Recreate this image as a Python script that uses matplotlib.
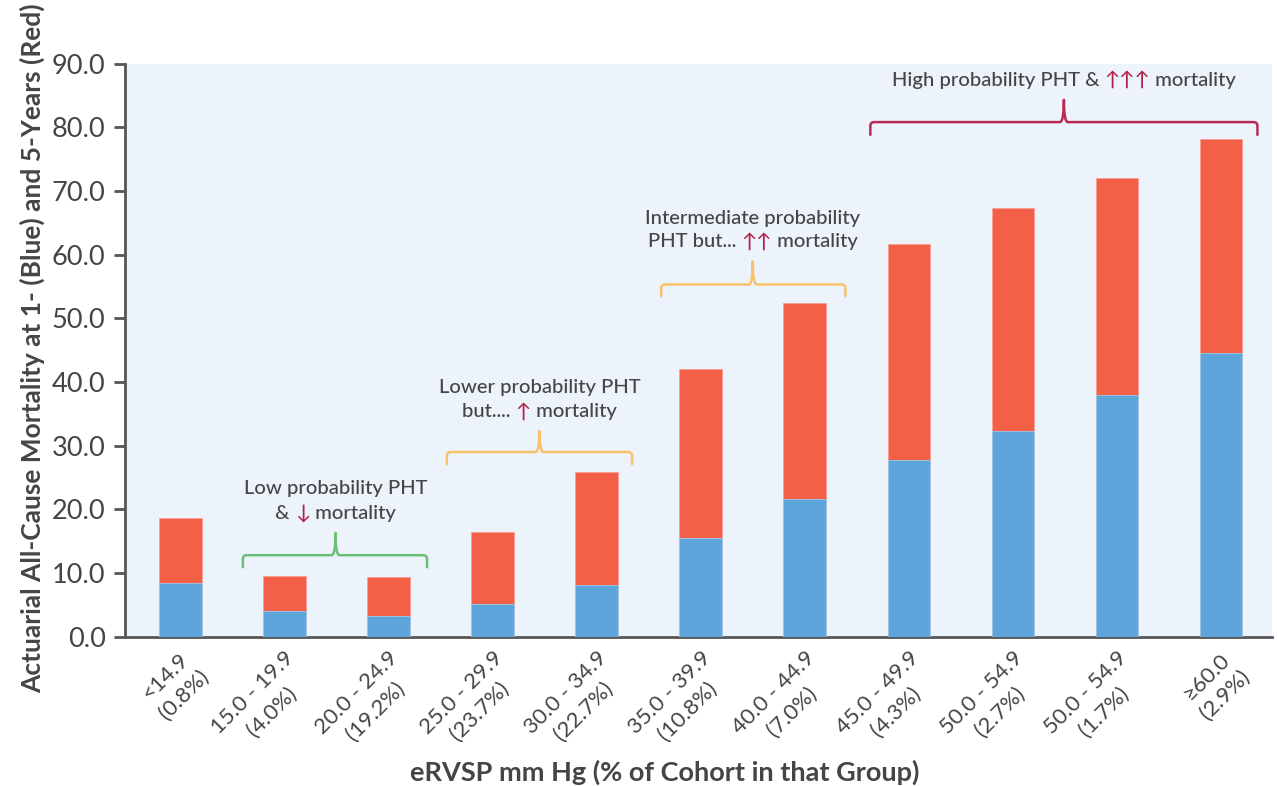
import matplotlib
matplotlib.use("Agg")
import matplotlib.pyplot as plt
from matplotlib.path import Path
from matplotlib.patches import PathPatch
from matplotlib.transforms import offset_copy, ScaledTranslation
import numpy as np

plt.rcParams['font.family'] = ['Lato', 'DejaVu Sans']

categories = ["<14.9\n(0.8%)", "15.0 - 19.9\n(4.0%)", "20.0 - 24.9\n(19.2%)",
              "25.0 - 29.9\n(23.7%)", "30.0 - 34.9\n(22.7%)", "35.0 - 39.9\n(10.8%)",
              "40.0 - 44.9\n(7.0%)", "45.0 - 49.9\n(4.3%)", "50.0 - 54.9\n(2.7%)",
              "50.0 - 54.9\n(1.7%)", "≥60.0\n(2.9%)"]
mort_5yr = [18.7, 9.6, 9.4, 16.4, 25.9, 42.0, 52.4, 61.6, 67.3, 72.0, 78.1]
mort_1yr = [8.4, 4.0, 3.2, 5.1, 8.1, 15.5, 21.6, 27.7, 32.3, 37.9, 44.5]
yticks = [0, 10, 20, 30, 40, 50, 60, 70, 80, 90]

RED = "#F45F47"
BLUE = "#5DA5DA"
BG = "#EDF3FB"
TXT = "#454545"
ARROW = "#B3214B"
GREEN = "#6CBF78"
ORANGE = "#F8C26A"
CRIMSON = "#B82A55"

W, H = 1277, 786
fig = plt.figure(figsize=(W / 100, H / 100), dpi=100)
ax = fig.add_axes([125 / W, 1 - 636.7 / H, (1272 - 125) / W, (636.7 - 63.5) / H])
ax.set_facecolor(BG)

x = np.arange(len(categories))
ax.bar(x, mort_5yr, width=0.41, color=RED, edgecolor="#F8A090", linewidth=0.6, zorder=2)
ax.bar(x, mort_1yr, width=0.41, color=BLUE, edgecolor="#9CCBEB", linewidth=0.6, zorder=3)

ax.set_xlim(-0.533, 10.49)
ax.set_ylim(0, 90)
ax.set_yticks(yticks)
ax.set_yticklabels([f"{v:.1f}" for v in yticks], fontsize=19.5, color=TXT)
ax.tick_params(axis='y', direction='out', length=8, width=2, color="#555555", pad=6)
ax.tick_params(axis='x', length=0, pad=20)
ax.set_xticks(x)
ax.set_xticklabels(categories, fontsize=16, color=TXT, rotation=45,
                   ha='right', va='center', rotation_mode='anchor')
shift = ScaledTranslation(16 / 100, 0, fig.dpi_scale_trans)
for t in ax.get_xticklabels():
    t.set_multialignment('center')
    t.set_linespacing(1.4)
    t.set_transform(t.get_transform() + shift)
for s in ['top', 'right']:
    ax.spines[s].set_visible(False)
for s in ['left', 'bottom']:
    ax.spines[s].set_color("#555555")
    ax.spines[s].set_linewidth(2)

fig.text(665 / W, 1 - 772 / H, "eRVSP mm Hg (% of Cohort in that Group)",
         fontsize=19.5, fontweight='bold', color=TXT, ha='center', va='center')
fig.text(32 / W, 1 - 348 / H, "Actuarial All-Cause Mortality at 1- (Blue) and 5-Years (Red)",
         fontsize=19, fontweight='bold', color=TXT, ha='center', va='center', rotation=90)

# brackets
sx = 1 / 104.05
sy = 1 / 6.37


def bracket(x0, x1, xc, y, yend, ytip, color):
    rx = 4 * sx
    ry = 4 * sy
    verts = [(x0, yend), (x0, y - ry), (x0, y), (x0 + rx, y),
             (xc - rx, y), (xc, y), (xc, ytip),
             (xc, y), (xc + rx, y),
             (x1 - rx, y), (x1, y), (x1, y - ry), (x1, yend)]
    codes = [Path.MOVETO, Path.LINETO, Path.CURVE3, Path.CURVE3,
             Path.LINETO, Path.CURVE3, Path.CURVE3,
             Path.CURVE3, Path.CURVE3,
             Path.LINETO, Path.CURVE3, Path.CURVE3, Path.LINETO]
    ax.add_patch(PathPatch(Path(verts, codes), facecolor='none', edgecolor=color,
                           lw=1.8, zorder=4, capstyle='round', joinstyle='round'))


bracket(0.60, 2.37, 1.49, 12.8, 10.9, 16.3, GREEN)
bracket(2.56, 4.34, 3.45, 29.0, 27.1, 32.3, ORANGE)
bracket(4.62, 6.39, 5.50, 55.3, 53.5, 58.9, ORANGE)
bracket(6.63, 10.35, 8.49, 80.8, 78.8, 84.3, CRIMSON)

renderer = fig.canvas.get_renderer()
FS = 14.6


def width(s):
    t = fig.text(0, 0, s + "|", fontsize=FS, fontweight='medium')
    w1 = t.get_window_extent(renderer).width
    t.set_text("|")
    w2 = t.get_window_extent(renderer).width
    t.remove()
    return w1 - w2


def rich_line(xc, y, parts):
    full = "".join(p for p, _ in parts)
    total = width(full)
    start = -total / 2
    prefix = ""
    for s, c in parts:
        off = start + width(prefix)
        tr = offset_copy(ax.transData, fig=fig, x=off, y=0, units='dots')
        ax.text(xc, y, s, transform=tr, fontsize=FS, fontweight='medium', color=c,
                ha='left', va='center', zorder=5)
        prefix += s


rich_line(1.49, 23.3, [("Low probability PHT", TXT)])
rich_line(1.49, 19.4, [("& ", TXT), ("↓", ARROW), (" mortality", TXT)])
rich_line(3.45, 39.2, [("Lower probability PHT", TXT)])
rich_line(3.45, 35.3, [("but.... ", TXT), ("↑", ARROW), (" mortality", TXT)])
rich_line(5.50, 65.7, [("Intermediate probability", TXT)])
rich_line(5.50, 62.0, [("PHT but... ", TXT), ("↑↑", ARROW), (" mortality", TXT)])
rich_line(8.49, 87.4, [("High probability PHT & ", TXT), ("↑↑↑", ARROW), (" mortality", TXT)])

fig.savefig("out.png", dpi=100)
